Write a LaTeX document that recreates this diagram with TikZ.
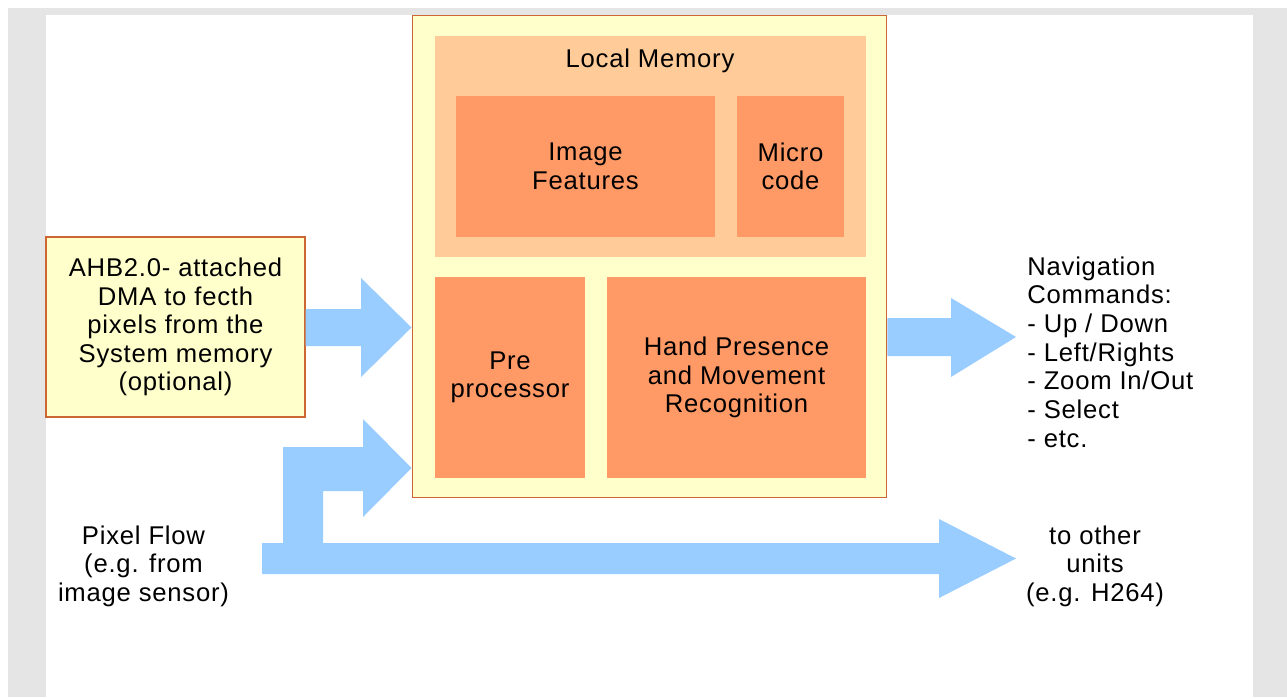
\documentclass[tikz,border=0pt]{standalone}
\usepackage{fontspec}
\setmainfont{Liberation Sans}[LetterSpace=3]
\usepackage[svgnames,dvipsnames]{xcolor}
\usepackage{tikz}
\usetikzlibrary{positioning,calc}
\definecolor{panelgray}{RGB}{229,229,229}
\definecolor{chipyellow}{RGB}{255,255,204}
\definecolor{chipedge}{RGB}{204,102,51}
\definecolor{memorange}{RGB}{255,204,153}
\definecolor{blockorange}{RGB}{255,153,102}
\definecolor{flowblue}{RGB}{153,204,255}
\tikzset{
    txt/.style={inner sep=0pt, align=center, font=\fontsize{14.6pt}{16.3pt}\selectfont},
    chipbox/.style={fill=chipyellow, draw=chipedge, line width=0.6pt, inner sep=0pt},
    membox/.style={fill=memorange, inner sep=0pt},
    unitbox/.style={fill=blockorange, txt},
    flow/.style={fill=flowblue, draw=none}
}

\begin{document}
\begin{tikzpicture}[x=0.02cm, y=-0.02cm]
    \useasboundingbox (0,0) rectangle (1287,697);
    \fill[white] (0,0) rectangle (1287,697);
    \fill[panelgray] (8,8) rectangle (1287,697);
    \fill[white] (46,15) rectangle (1253,697);

    \node[chipbox, minimum width=9.5cm, minimum height=9.66cm] (chip) at (649.5,256.5) {};
    \node[membox, minimum width=8.62cm, minimum height=4.42cm] (localmem) at (650.5,146.5) {};
    \node[txt] (memtitle) at (650,61) {Local Memory};
    \node[unitbox, minimum width=5.18cm, minimum height=2.82cm] (features) at (585.5,166.5) {Image\\Features};
    \node[unitbox, minimum width=2.14cm, minimum height=2.82cm] (microcode) at (790.5,166.5) {Micro\\code};
    \node[unitbox, minimum width=3cm, minimum height=4.02cm] (preproc) at (510,377.5) {Pre\\processor};
    \node[unitbox, minimum width=5.18cm, minimum height=4.02cm] (handrec) at (736.5,377.5) {Hand Presence\\and Movement\\Recognition};

    \node[chipbox, txt, minimum width=5.18cm, minimum height=3.6cm] (dma) at (175.5,327) {AHB2.0- attached\\DMA to fecth\\pixels from the\\System memory\\(optional)};

    \node[txt, align=left, anchor=west] (navcmds) at (1027,352) {Navigation\\Commands:\\- Up / Down\\- Left/Rights\\- Zoom In/Out\\- Select\\- etc.};
    \node[txt] (otherunits) at (1095,566) {to other\\units\\(e.g. H264)};
    \node[txt] (pixelflow) at (143.5,566) {Pixel Flow\\(e.g. from\\image sensor)};

    \fill[flow] (dma.east |- 0,309) -- (361,309) -- (361,278) -- (chip.west |- 0,327.5) -- (361,377) -- (361,346) -- (dma.east |- 0,346) -- cycle;
    \fill[flow] (chip.east |- 0,318) -- (951,318) -- (951,298) -- (1016,337) -- (951,377) -- (951,356) -- (chip.east |- 0,356) -- cycle;
    \fill[flow] (262,543) -- (939,543) -- (939,519) -- (1016,558.5) -- (939,598) -- (939,574) -- (262,574) -- cycle;
    \fill[flow] (283,543) -- (283,447) -- (363,447) -- (363,419) -- (chip.west |- 0,468) -- (363,517) -- (363,491) -- (323,491) -- (323,543) -- cycle;
\end{tikzpicture}
\end{document}
